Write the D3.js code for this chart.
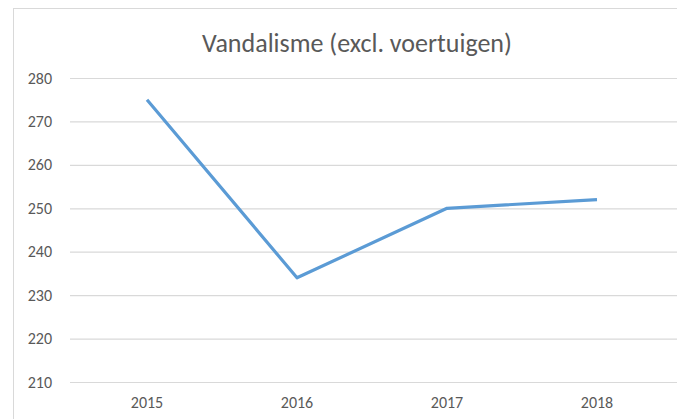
<!DOCTYPE html>
<html><head><meta charset="utf-8">
<script src="https://cdn.jsdelivr.net/npm/d3@7"></script>
<style>body{margin:0;background:#fff;}svg{display:block;}</style>
</head><body>
<script>
const categories = ["2015","2016","2017","2018"];
const values = [275, 234, 250, 252];
const yTicks = [210,220,230,240,250,260,270,280];
const title = "Vandalisme (excl. voertuigen)";

const W = 677, H = 419;
const svg = d3.select("body").append("svg").attr("width", W).attr("height", H);
svg.append("rect").attr("x",13.5).attr("y",8.5).attr("width",W).attr("height",H)
  .attr("fill","#fff").attr("stroke","#d9d9d9");

const x = d3.scaleBand().domain(categories).range([72, 672]);
const y = d3.scaleLinear().domain([210, 280]).range([382, 78]);
const font = "Calibri, Carlito, 'Open Sans', sans-serif";

svg.append("text").attr("x", 357).attr("y", 52).attr("text-anchor","middle")
  .attr("font-family", font).attr("font-size", 26).attr("fill","#595959").text(title);

const ga = svg.append("g").attr("transform","translate(70,0)")
  .call(d3.axisLeft(y).tickValues(yTicks).tickSize(-610).tickPadding(18));
ga.select(".domain").remove();
ga.selectAll(".tick line").attr("stroke","#d9d9d9").attr("stroke-width",1.2);
ga.selectAll("text").attr("font-family", font).attr("font-size", 16).attr("fill","#595959");

const gx = svg.append("g").attr("transform","translate(0,382)")
  .call(d3.axisBottom(x).tickSize(0).tickPadding(15));
gx.select(".domain").remove();
gx.selectAll("text").attr("font-family", font).attr("font-size", 16).attr("fill","#595959");

const line = d3.line().x((d,i)=>x(categories[i]) + x.bandwidth()/2).y(d=>y(d));
svg.append("path").datum(values).attr("d", line).attr("fill","none")
  .attr("stroke","#5b9bd5").attr("stroke-width",3.2).attr("stroke-linejoin","round");
</script>
</body></html>
